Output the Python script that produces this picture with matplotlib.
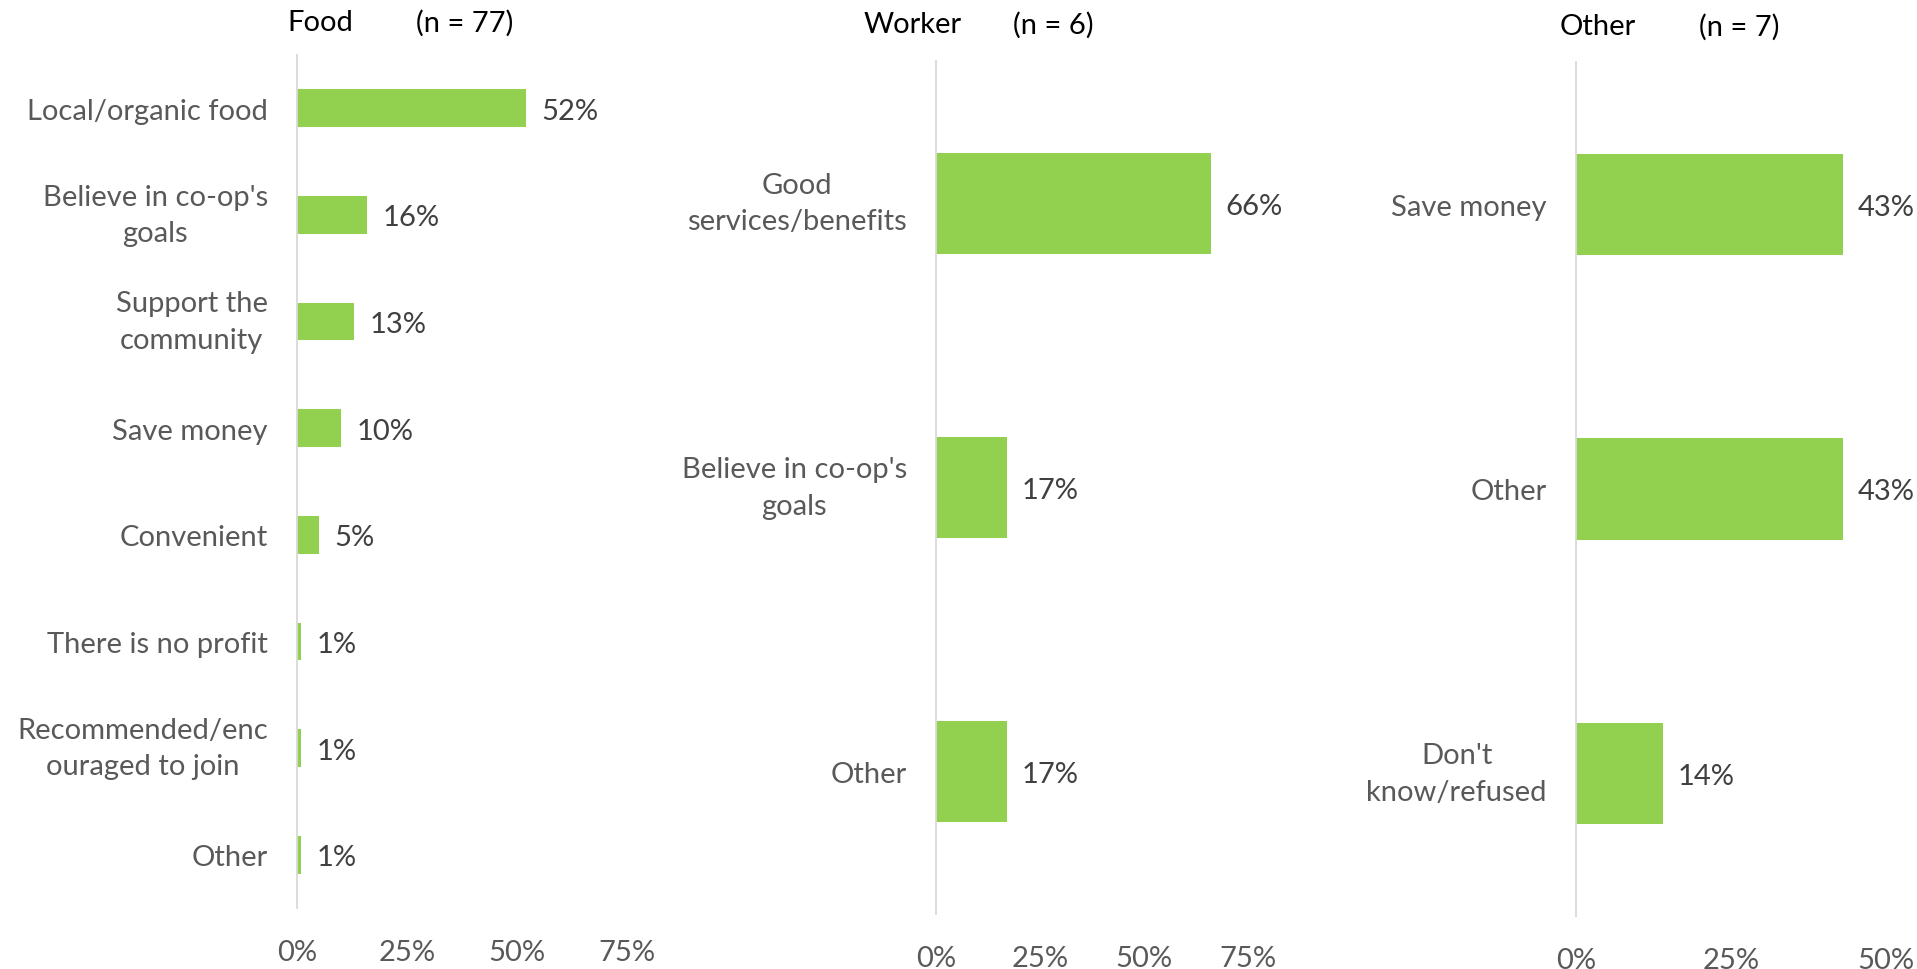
import matplotlib
matplotlib.use("Agg")
import numpy as np
from matplotlib import pyplot as plt
from matplotlib.ticker import FuncFormatter

# Reasons for joining, share of members by co-op type
food_labels = ["Local/organic food", "Believe in co-op's\ngoals", "Support the\ncommunity",
               "Save money", "Convenient", "There is no profit",
               "Recommended/enc\nouraged to join", "Other"]
food_values = [52, 16, 13, 10, 5, 1, 1, 1]

worker_labels = ["Good\nservices/benefits", "Believe in co-op's\ngoals", "Other"]
worker_values = [66, 17, 17]

other_labels = ["Save money", "Other", "Don't\nknow/refused"]
other_values = [43, 43, 14]

panels = [
    ("Food", "(n = 77)", food_labels, food_values, [0, 25, 50, 75]),
    ("Worker", "(n = 6)", worker_labels, worker_values, [0, 25, 50, 75]),
    ("Other", "(n = 7)", other_labels, other_values, [0, 25, 50]),
]

plt.rcParams['font.family'] = ['Lato', 'DejaVu Sans']
FS = 21
GREEN = '#92D050'

fig = plt.figure(figsize=(19.17, 9.70), dpi=100)
W, H = 1917, 970

# axes boxes in pixels: left, top, right, bottom
boxes = [(297, 56, 627, 909), (936, 62, 1248, 915), (1576, 63, 1886, 917)]
# title positions in pixels: name x, n x, y
title_pos = [(287, 416, 23), (864, 1013, 25), (1560, 1699, 27)]

for (name, ntext, labels, values, ticks), (l, t, r, b), (tx, nx, ty) in zip(panels, boxes, title_pos):
    ax = fig.add_axes([l / W, (H - b) / H, (r - l) / W, (b - t) / H])
    y = np.arange(len(labels))
    bars = ax.barh(y, values, height=0.355, color=GREEN)
    vals = ax.bar_label(bars, labels=[f"{v}%" for v in values], padding=11,
                        fontsize=FS, color='#404040')
    for txt in vals:
        txt.set_va('center_baseline')
    ax.set_ylim(len(labels) - 0.5, -0.5)
    ax.set_xlim(ticks[0], ticks[-1])
    ax.set_yticks(y)
    ax.set_yticklabels(labels, multialignment='center', linespacing=1.5)
    for lbl in ax.get_yticklabels():
        if '\n' in lbl.get_text():
            lbl.set_va('center')
    ax.set_xticks(ticks)
    ax.xaxis.set_major_formatter(FuncFormatter(lambda v, p: f"{v:.0f}%"))
    ax.tick_params(axis='y', length=0, pad=21, labelsize=FS, labelcolor='#595959')
    ax.tick_params(axis='x', length=0, pad=22, labelsize=FS, labelcolor='#595959')
    for s in ['top', 'right', 'bottom']:
        ax.spines[s].set_visible(False)
    ax.spines['left'].set_color('#D9D9D9')
    ax.spines['left'].set_linewidth(1.3)

    fig.text(tx / W, 1 - ty / H, name, fontsize=FS, color='black', ha='left', va='center')
    fig.text(nx / W, 1 - ty / H, ntext, fontsize=FS, color='black', ha='left', va='center')

fig.savefig('out.png', dpi=100)
